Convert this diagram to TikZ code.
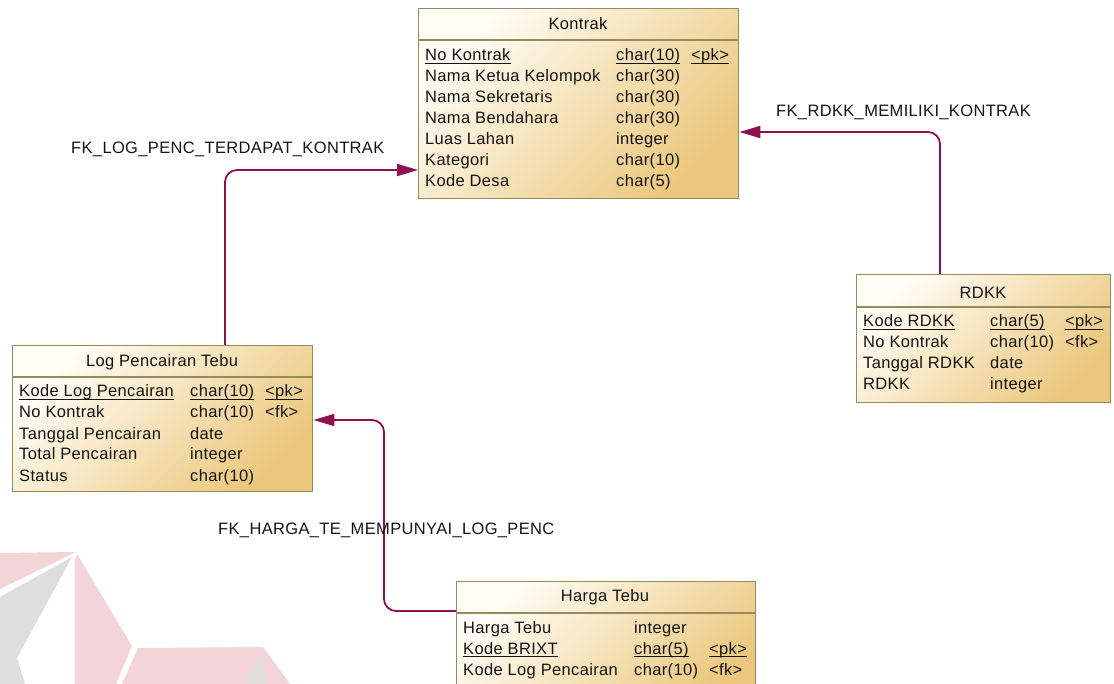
\documentclass[tikz,border=0pt]{standalone}
\usepackage{fontspec}
\setmainfont{Liberation Sans}[LetterSpace=2.1]
\usetikzlibrary{arrows.meta,calc}
\definecolor{fkcol}{HTML}{8C1150}
\definecolor{boxline}{HTML}{948C5A}
\definecolor{boxlight}{HTML}{FFFDF6}
\definecolor{boxdark}{HTML}{EBC77C}
\definecolor{wmpink}{HTML}{F3D5D9}
\definecolor{wmgray}{HTML}{DEDEDE}
\definecolor{txt}{HTML}{141414}
\newcommand{\pkul}[1]{\setbox0\hbox{#1}\rlap{\rule[-2.6pt]{\wd0}{0.9pt}}\box0}
\begin{document}
\begin{tikzpicture}[x=1pt,y=-1pt,
  tbl/.style={draw=boxline, line width=1.4pt, top color=boxlight, bottom color=boxdark, shading angle=45, rectangle, inner sep=0pt, anchor=north west},
  sep/.style={draw=boxline, line width=1.4pt},
  cell/.style={anchor=base west, inner sep=0pt, text=txt, font=\fontsize{16.5}{19}\selectfont},
  ttl/.style={anchor=base, inner sep=0pt, text=txt, font=\fontsize{16.5}{19}\selectfont},
  fklbl/.style={anchor=base west, inner sep=0pt, text=txt, font=\fontsize{16.5}{19}\selectfont},
  fk/.style={draw=fkcol, line width=1.8pt, rounded corners=12pt, -{Triangle[length=21pt,width=12pt]}}]
\useasboundingbox (0,0) rectangle (1114,684);
\clip (0,0) rectangle (1114,684);
% watermark
\fill[wmpink] (0,553) -- (76,552) -- (0,589) -- cycle;
\fill[wmgray] (0,597) -- (72,557) -- (17,658) -- (25,684) -- (0,684) -- cycle;
\fill[wmpink] (77,554) -- (132,646) -- (116,684) -- (75,684) -- (75,560) -- cycle;
\fill[wmpink] (138,648) -- (263,647) -- (290,684) -- (122,684) -- cycle;
\fill[wmgray] (261,652) -- (246,684) -- (266,684) -- cycle;
% tables
\node[tbl, minimum width=320pt, minimum height=190pt] (kontrak) at (418,8) {};
\node[tbl, minimum width=300pt, minimum height=146pt] (logp) at (12,345) {};
\node[tbl, minimum width=254pt, minimum height=128pt] (rdkk) at (856,274) {};
\node[tbl, minimum width=299pt, minimum height=130pt] (harga) at (456,581) {};
\draw[sep] (kontrak.west |- 0,40) -- (kontrak.east |- 0,40);
\draw[sep] (logp.west |- 0,377) -- (logp.east |- 0,377);
\draw[sep] (rdkk.west |- 0,307) -- (rdkk.east |- 0,307);
\draw[sep] (harga.west |- 0,613) -- (harga.east |- 0,613);
% Kontrak
\node[ttl] (kt) at (578,30) {Kontrak};
\node[cell] (k1a) at (425,61) {\pkul{No Kontrak}};
\node[cell] (k1b) at (616,61) {\pkul{char(10)}};
\node[cell] (k1c) at (691,61) {\pkul{<pk>}};
\node[cell] (k2a) at (425,82) {Nama Ketua Kelompok};
\node[cell] (k2b) at (616,82) {char(30)};
\node[cell] (k3a) at (425,103) {Nama Sekretaris};
\node[cell] (k3b) at (616,103) {char(30)};
\node[cell] (k4a) at (425,124) {Nama Bendahara};
\node[cell] (k4b) at (616,124) {char(30)};
\node[cell] (k5a) at (425,145) {Luas Lahan};
\node[cell] (k5b) at (616,145) {integer};
\node[cell] (k6a) at (425,166) {Kategori};
\node[cell] (k6b) at (616,166) {char(10)};
\node[cell] (k7a) at (425,187) {Kode Desa};
\node[cell] (k7b) at (616,187) {char(5)};
% Log Pencairan Tebu
\node[ttl] (lt) at (162,367) {Log Pencairan Tebu};
\node[cell] (l1a) at (19,397) {\pkul{Kode Log Pencairan}};
\node[cell] (l1b) at (190,397) {\pkul{char(10)}};
\node[cell] (l1c) at (265,397) {\pkul{<pk>}};
\node[cell] (l2a) at (19,418) {No Kontrak};
\node[cell] (l2b) at (190,418) {char(10)};
\node[cell] (l2c) at (265,418) {<fk>};
\node[cell] (l3a) at (19,439) {Tanggal Pencairan};
\node[cell] (l3b) at (190,439) {date};
\node[cell] (l4a) at (19,460) {Total Pencairan};
\node[cell] (l4b) at (190,460) {integer};
\node[cell] (l5a) at (19,481) {Status};
\node[cell] (l5b) at (190,481) {char(10)};
% RDKK
\node[ttl] (rt) at (983,299) {RDKK};
\node[cell] (r1a) at (863,327) {\pkul{Kode RDKK}};
\node[cell] (r1b) at (990,327) {\pkul{char(5)}};
\node[cell] (r1c) at (1065,327) {\pkul{<pk>}};
\node[cell] (r2a) at (863,348) {No Kontrak};
\node[cell] (r2b) at (990,348) {char(10)};
\node[cell] (r2c) at (1065,348) {<fk>};
\node[cell] (r3a) at (863,369) {Tanggal RDKK};
\node[cell] (r3b) at (990,369) {date};
\node[cell] (r4a) at (863,390) {RDKK};
\node[cell] (r4b) at (990,390) {integer};
% Harga Tebu
\node[ttl] (ht) at (605,601) {Harga Tebu};
\node[cell] (h1a) at (463,633) {Harga Tebu};
\node[cell] (h1b) at (634,633) {integer};
\node[cell] (h2a) at (463,654) {\pkul{Kode BRIXT}};
\node[cell] (h2b) at (634,654) {\pkul{char(5)}};
\node[cell] (h2c) at (709,654) {\pkul{<pk>}};
\node[cell] (h3a) at (463,675) {Kode Log Pencairan};
\node[cell] (h3b) at (634,675) {char(10)};
\node[cell] (h3c) at (709,675) {<fk>};
% connectors
\draw[fk] ([xshift=213pt]logp.north west) |- ([yshift=-162pt]kontrak.north west);
\draw[fk] ([xshift=84pt]rdkk.north west) |- ([yshift=-124pt]kontrak.north east);
\draw[fk] ([yshift=-30pt]harga.north west) -- ++(-72,0) |- ([yshift=-75pt]logp.north east);
% labels
\node[fklbl] (lbl1) at (71,154) {FK\_LOG\_PENC\_TERDAPAT\_KONTRAK};
\node[fklbl] (lbl2) at (776,117) {FK\_RDKK\_MEMILIKI\_KONTRAK};
\node[fklbl] (lbl3) at (218,534) {FK\_HARGA\_TE\_MEMPUNYAI\_LOG\_PENC};
\end{tikzpicture}
\end{document}
